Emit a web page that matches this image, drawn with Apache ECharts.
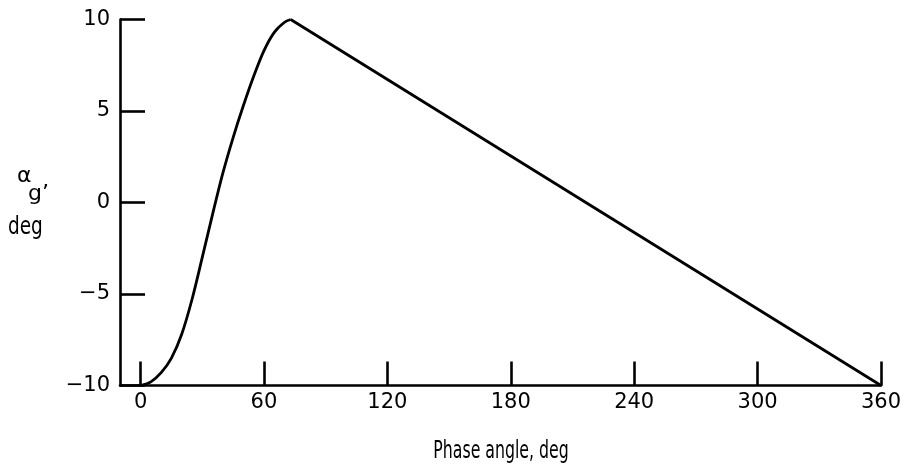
<!DOCTYPE html>
<html>
<head>
<meta charset="utf-8">
<script src="https://cdn.jsdelivr.net/npm/echarts@6/dist/echarts.min.js"></script>
<style>html,body{margin:0;padding:0;background:#fff}#c{width:906px;height:472px}</style>
</head>
<body>
<div id="c"></div>
<script>
// Rising (curved) part of the trace
const risePhase = [0, 5, 10, 15, 20, 25, 30, 35, 40, 45, 50, 55, 60, 65, 70, 73];
const riseAlpha = [-10, -9.8, -9.3, -8.5, -7.2, -5.3, -3.0, -0.65, 1.6, 3.55, 5.3, 6.9, 8.3, 9.3, 9.85, 10];
// Falling (straight) part of the trace
const fallPhase = [73, 360];
const fallAlpha = [10, -10];
// Tick labels
const xTicks = [0, 60, 120, 180, 240, 300, 360];
const yTicks = [-10, -5, 0, 5, 10];

const fmt = v => (v < 0 ? '\u2212' + Math.abs(v) : String(v));
const chart = echarts.init(document.getElementById('c'), null, {renderer: 'canvas'});
const lineCol = '#000';
const condFont = '"DejaVu Sans Condensed", "DejaVu Sans", sans-serif';
chart.setOption({
  animation: false,
  backgroundColor: '#fff',
  grid: {left: 120, right: 25, top: 19.5, bottom: 86.5},
  xAxis: {
    type: 'value', min: -10, max: 360,
    axisLine: {show: true, onZero: false, lineStyle: {color: lineCol, width: 2.6}},
    axisTick: {show: true, inside: true, length: 24, customValues: xTicks, lineStyle: {color: lineCol, width: 2.6}},
    axisLabel: {customValues: xTicks, formatter: fmt, color: '#000', fontSize: 21, fontFamily: 'DejaVu Sans', margin: 7},
    splitLine: {show: false}
  },
  yAxis: {
    type: 'value', min: -10, max: 10, interval: 5,
    axisLine: {show: true, onZero: false, lineStyle: {color: lineCol, width: 2.6}},
    axisTick: {show: true, inside: true, length: 25, lineStyle: {color: lineCol, width: 2.6}},
    axisLabel: {formatter: fmt, color: '#000', fontSize: 21, fontFamily: 'DejaVu Sans', margin: 10},
    splitLine: {show: false}
  },
  graphic: [
    {type: 'text', x: 501, y: 451, scaleX: 0.7, style: {text: 'Phase angle, deg', font: '25px ' + condFont, fill: '#000', align: 'center', verticalAlign: 'middle'}},
    {type: 'text', x: 17, y: 165, style: {text: '\u03b1', font: '22px "DejaVu Sans"', fill: '#000'}},
    {type: 'text', x: 28, y: 183, style: {text: 'g\u2019', font: '22px "DejaVu Sans"', fill: '#000'}},
    {type: 'text', x: 8, y: 215, scaleX: 0.82, style: {text: 'deg', font: '25px ' + condFont, fill: '#000'}}
  ],
  series: [
    {type: 'line', data: risePhase.map((p, i) => [p, riseAlpha[i]]), smooth: 0.3, symbol: 'none',
     lineStyle: {color: '#000', width: 2.8}},
    {type: 'line', data: fallPhase.map((p, i) => [p, fallAlpha[i]]), smooth: false, symbol: 'none',
     lineStyle: {color: '#000', width: 2.8}}
  ]
});
</script>
</body>
</html>
